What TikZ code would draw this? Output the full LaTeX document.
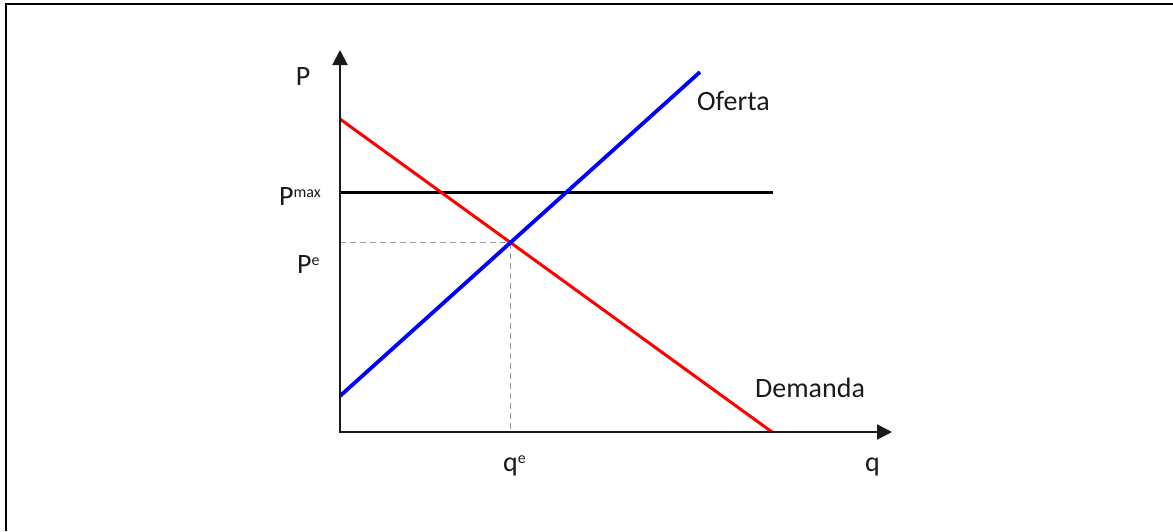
\documentclass[tikz,border=0pt]{standalone}
\usepackage{fontspec}
\setmainfont{Carlito}
\usetikzlibrary{arrows.meta,positioning,calc}
\definecolor{Ink}{HTML}{1A1A1A}
\definecolor{Dem}{HTML}{FF0000}
\definecolor{Sup}{HTML}{0000FF}
\definecolor{Guide}{HTML}{9A9A9A}
\newcommand{\sps}[1]{\raisebox{8pt}{\fontsize{16}{17}\selectfont #1}}
\tikzset{
 axis/.style={{Triangle[length=15pt,width=15pt]}-{Triangle[length=15pt,width=15pt]},line width=2pt,draw=Ink},
 demand/.style={line width=3pt,draw=Dem},
 supply/.style={line width=3.8pt,draw=Sup},
 ceiling/.style={line width=3pt,draw=black},
 guide/.style={draw=Guide,line width=0.9pt,dash pattern=on 6pt off 4pt},
 lab/.style={font=\fontsize{28}{31}\selectfont,inner sep=0pt,text=Ink}
}
\begin{document}
\begin{tikzpicture}[x=1pt,y=-1pt]
\useasboundingbox (0,0) rectangle (1173,531);
\draw[line width=2pt] (6,531) -- (6,4) -- (1173,4);
% points of the graph
\coordinate (O) at (340,432);
\coordinate (Ytop) at (340,50);
\coordinate (Xend) at (892,432);
\coordinate (D1) at (340,119);
\coordinate (D2) at (772,432);
\coordinate (S1) at (340,396);
\coordinate (S2) at (700,72);
\coordinate (M1) at (340,192);
\coordinate (M2) at (773,192);
\coordinate (E) at (510,242.5);
% equilibrium guides
\draw[guide] (E -| O) -- (E) -- (E |- O);
% curves
\draw[ceiling] (M1) -- (M2);
\draw[demand] (D1) -- (D2);
\draw[supply] (S1) -- (S2);
\draw[axis] (Ytop) -- (O) -- (Xend);
% labels
\node[lab,anchor=base] (pLab) at (303,85) {P};
\node[lab,anchor=base east] (pmaxLab) at (321,205) {P\sps{max}};
\node[lab,anchor=base west] (peLab) at (297,273) {P\sps{e}};
\node[lab,anchor=base west] (qeLab) at (503,471) {q\sps{e}};
\node[lab,anchor=base west] (qLab) at (865,471) {q};
\node[lab,anchor=base west] (ofLab) at (697,110) {Oferta};
\node[lab,anchor=base west] (deLab) at (755,397) {Demanda};
\end{tikzpicture}
\end{document}
